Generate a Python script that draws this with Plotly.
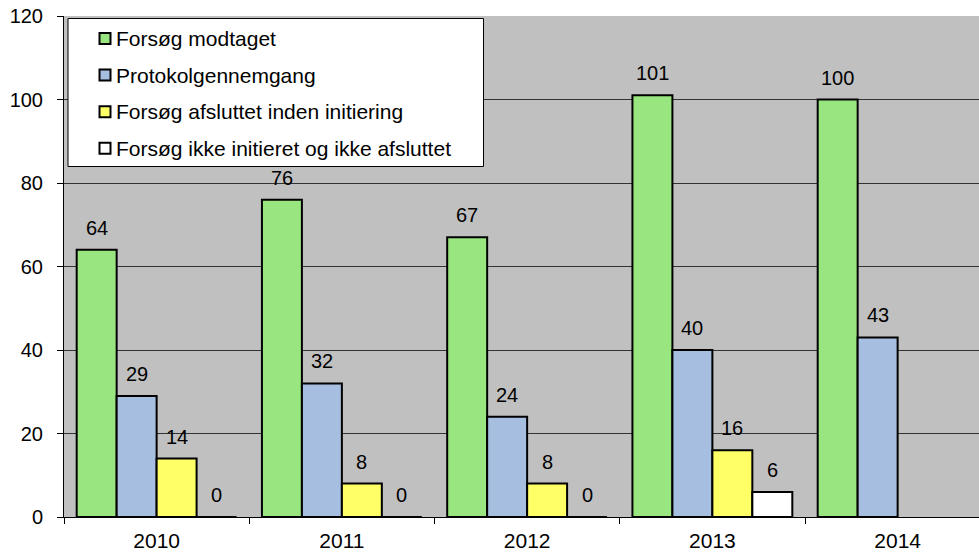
import plotly.graph_objects as go

years = ["2010", "2011", "2012", "2013", "2014"]
series_names = [
    "Forsøg modtaget",
    "Protokolgennemgang",
    "Forsøg afsluttet inden initiering",
    "Forsøg ikke initieret og ikke afsluttet",
]
modtaget = [64, 76, 67, 101, 100]
protokol = [29, 32, 24, 40, 43]
afsluttet = [14, 8, 8, 16, None]
ikke_init = [0, 0, 0, 6, None]
series_values = [modtaget, protokol, afsluttet, ikke_init]
colors = ["#99E680", "#A6BFE0", "#FFFF66", "#FFFFFF"]
y_ticks = [0, 20, 40, 60, 80, 100, 120]

FONT = "Arial, 'Liberation Sans', sans-serif"
W, H = 979, 553
ML, MR, MT, MB = 64, 0, 16, 36
PW, PH = W - ML - MR, H - MT - MB

BARGAP = 0.137
n = len(series_names)
bw = (1 - BARGAP) / n

fig = go.Figure()
for name, vals, col in zip(series_names, series_values, colors):
    fig.add_trace(go.Bar(
        x=years, y=vals, name=name,
        marker=dict(color=col, line=dict(color="black", width=2)),
        showlegend=False, hoverinfo="x+y+name",
    ))

annotations = []
# value labels above the bars
for j, vals in enumerate(series_values):
    for i, v in enumerate(vals):
        if v is None:
            continue
        annotations.append(dict(
            x=i + (j - (n - 1) / 2) * bw, y=v, xref="x", yref="y",
            text=str(v), showarrow=False, yanchor="middle", yshift=22,
            font=dict(family=FONT, size=20, color="black"),
        ))

# manual legend (pixel -> paper helpers)
def px_x(p):
    return (p - ML) / PW

def px_y(p):
    return (H - MB - p) / PH

shapes = [dict(type="rect", xref="paper", yref="paper",
               x0=px_x(68), x1=px_x(483.5), y0=px_y(18.5), y1=px_y(166.5),
               fillcolor="white", line=dict(color="black", width=1), layer="above")]
row_y = [38.5, 75, 111.7, 148.3]
for name, col, cy in zip(series_names, colors, row_y):
    shapes.append(dict(type="rect", xref="paper", yref="paper",
                       x0=px_x(99.5), x1=px_x(110.5), y0=px_y(cy + 5.5), y1=px_y(cy - 5.5),
                       fillcolor=col, line=dict(color="black", width=2), layer="above"))
    annotations.append(dict(
        x=px_x(114), y=px_y(cy), xref="paper", yref="paper",
        text=name, showarrow=False, xanchor="left", yanchor="middle",
        font=dict(family=FONT, size=21, color="black"),
    ))

fig.update_layout(
    width=W, height=H,
    margin=dict(l=ML, r=MR, t=MT, b=MB, pad=0),
    paper_bgcolor="white", plot_bgcolor="#C0C0C0",
    barmode="group", bargap=BARGAP, bargroupgap=0,
    font=dict(family=FONT, size=20, color="black"),
    shapes=shapes, annotations=annotations,
    showlegend=False,
    xaxis=dict(
        type="category", range=[-0.5, -0.5 + PW / 185.25],
        showgrid=False, showline=True, linecolor="black", linewidth=1,
        ticks="outside", tickson="boundaries", ticklen=6, tickcolor="black",
        tickfont=dict(family=FONT, size=21, color="black"),
        ticklabelstandoff=5,
        fixedrange=True,
    ),
    yaxis=dict(
        range=[0, 120], tickvals=y_ticks,
        showgrid=True, gridcolor="#333333", gridwidth=1,
        showline=True, linecolor="black", linewidth=1,
        ticks="outside", ticklen=6, tickcolor="black",
        tickfont=dict(family=FONT, size=20, color="black"),
        ticklabelstandoff=10, zeroline=False,
        fixedrange=True,
    ),
)

fig.write_html("out.html")
